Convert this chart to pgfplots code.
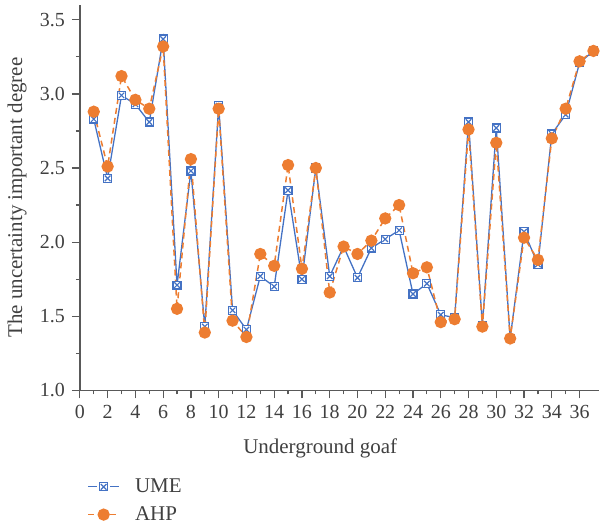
\documentclass[border=0pt]{standalone}
\usepackage{fontspec}
\setmainfont{Liberation Serif}
\usepackage{pgfplots}
\pgfplotsset{compat=1.18}
\definecolor{umeblue}{HTML}{4472C4}
\definecolor{ahporange}{HTML}{ED7D31}
\definecolor{txtgray}{HTML}{404040}
\definecolor{axgray}{HTML}{595959}
\pgfdeclareplotmark{boxx}{%
  \pgfpathrectangle{\pgfpoint{-\pgfplotmarksize}{-\pgfplotmarksize}}{\pgfpoint{2\pgfplotmarksize}{2\pgfplotmarksize}}%
  \pgfusepathqfillstroke
  \pgfpathmoveto{\pgfpoint{-0.7\pgfplotmarksize}{-0.7\pgfplotmarksize}}%
  \pgfpathlineto{\pgfpoint{0.7\pgfplotmarksize}{0.7\pgfplotmarksize}}%
  \pgfpathmoveto{\pgfpoint{-0.7\pgfplotmarksize}{0.7\pgfplotmarksize}}%
  \pgfpathlineto{\pgfpoint{0.7\pgfplotmarksize}{-0.7\pgfplotmarksize}}%
  \pgfusepathqstroke}
\begin{document}
\begin{tikzpicture}
\begin{axis}[name=ax, scale only axis, width=260pt, height=193pt,
  xmin=0, xmax=37.4, ymin=1, ymax=3.6,
  axis x line*=bottom, axis y line*=left,
  axis line style={-, axgray, line width=0.7pt},
  xtick={0,2,...,36}, minor x tick num=1,
  ytick={1,1.5,...,3.5}, minor y tick num=1,
  tick align=outside, major tick length=4pt, minor tick length=2pt,
  tick style={axgray, line width=0.6pt},
  /pgf/number format/assume math mode=true,
  yticklabel style={/pgf/number format/.cd, fixed, fixed zerofill, precision=1},
  ticklabel style={font=\fontsize{10}{12}\selectfont, text=txtgray},
  every axis x label/.style={at={(axis description cs:0.463,-0.15)}, anchor=center, font=\fontsize{10.5}{12}\selectfont, text=txtgray},
  every axis y label/.style={at={(axis description cs:-0.121,0.5)}, anchor=center, rotate=90, font=\fontsize{10.5}{12}\selectfont, text=txtgray},
  xlabel={Underground goaf},
  ylabel={The uncertainty important degree},
  legend style={at={(axis description cs:0.002,-0.207)}, anchor=north west, draw=none, fill=none, font=\fontsize{10.5}{12}\selectfont, text=txtgray, row sep=1.5pt},
  legend cell align=left,
  legend image code/.code={%
    \draw[#1] (0cm,0cm)--(0.16cm,0cm) (0.39cm,0cm)--(0.55cm,0cm);
    \path[#1] plot coordinates {(0.275cm,0cm)};},
  clip=false,
]
\addplot[color=umeblue, line width=0.65pt, mark=boxx, mark size=2pt, mark options={fill=white, solid, line width=0.6pt}] coordinates {
(1,2.83) (2,2.43) (3,2.99) (4,2.93) (5,2.81) (6,3.37) (7,1.71) (8,2.48) (9,1.43) (10,2.92)
(11,1.54) (12,1.41) (13,1.77) (14,1.70) (15,2.35) (16,1.75) (17,2.50) (18,1.77) (19,1.97) (20,1.76)
(21,1.96) (22,2.02) (23,2.08) (24,1.65) (25,1.72) (26,1.51) (27,1.49) (28,2.81) (29,1.44) (30,2.77)
(31,1.35) (32,2.07) (33,1.85) (34,2.73) (35,2.86) (36,3.21) (37,3.29)};
\addplot[color=ahporange, line width=0.75pt, dash pattern=on 3pt off 2pt, mark=*, mark size=2.7pt, mark options={solid}] coordinates {
(1,2.88) (2,2.51) (3,3.12) (4,2.96) (5,2.90) (6,3.32) (7,1.55) (8,2.56) (9,1.39) (10,2.90)
(11,1.47) (12,1.36) (13,1.92) (14,1.84) (15,2.52) (16,1.82) (17,2.50) (18,1.66) (19,1.97) (20,1.92)
(21,2.01) (22,2.16) (23,2.25) (24,1.79) (25,1.83) (26,1.46) (27,1.48) (28,2.76) (29,1.43) (30,2.67)
(31,1.35) (32,2.03) (33,1.88) (34,2.70) (35,2.90) (36,3.22) (37,3.29)};
\legend{\hspace{5.5pt}UME, \hspace{5.5pt}AHP}
\end{axis}
\pgfresetboundingbox
\path ([xshift=-40pt,yshift=-67.5pt]ax.south west) rectangle ([xshift=0.5pt,yshift=2.5pt]ax.north east);
\end{tikzpicture}
\end{document}
